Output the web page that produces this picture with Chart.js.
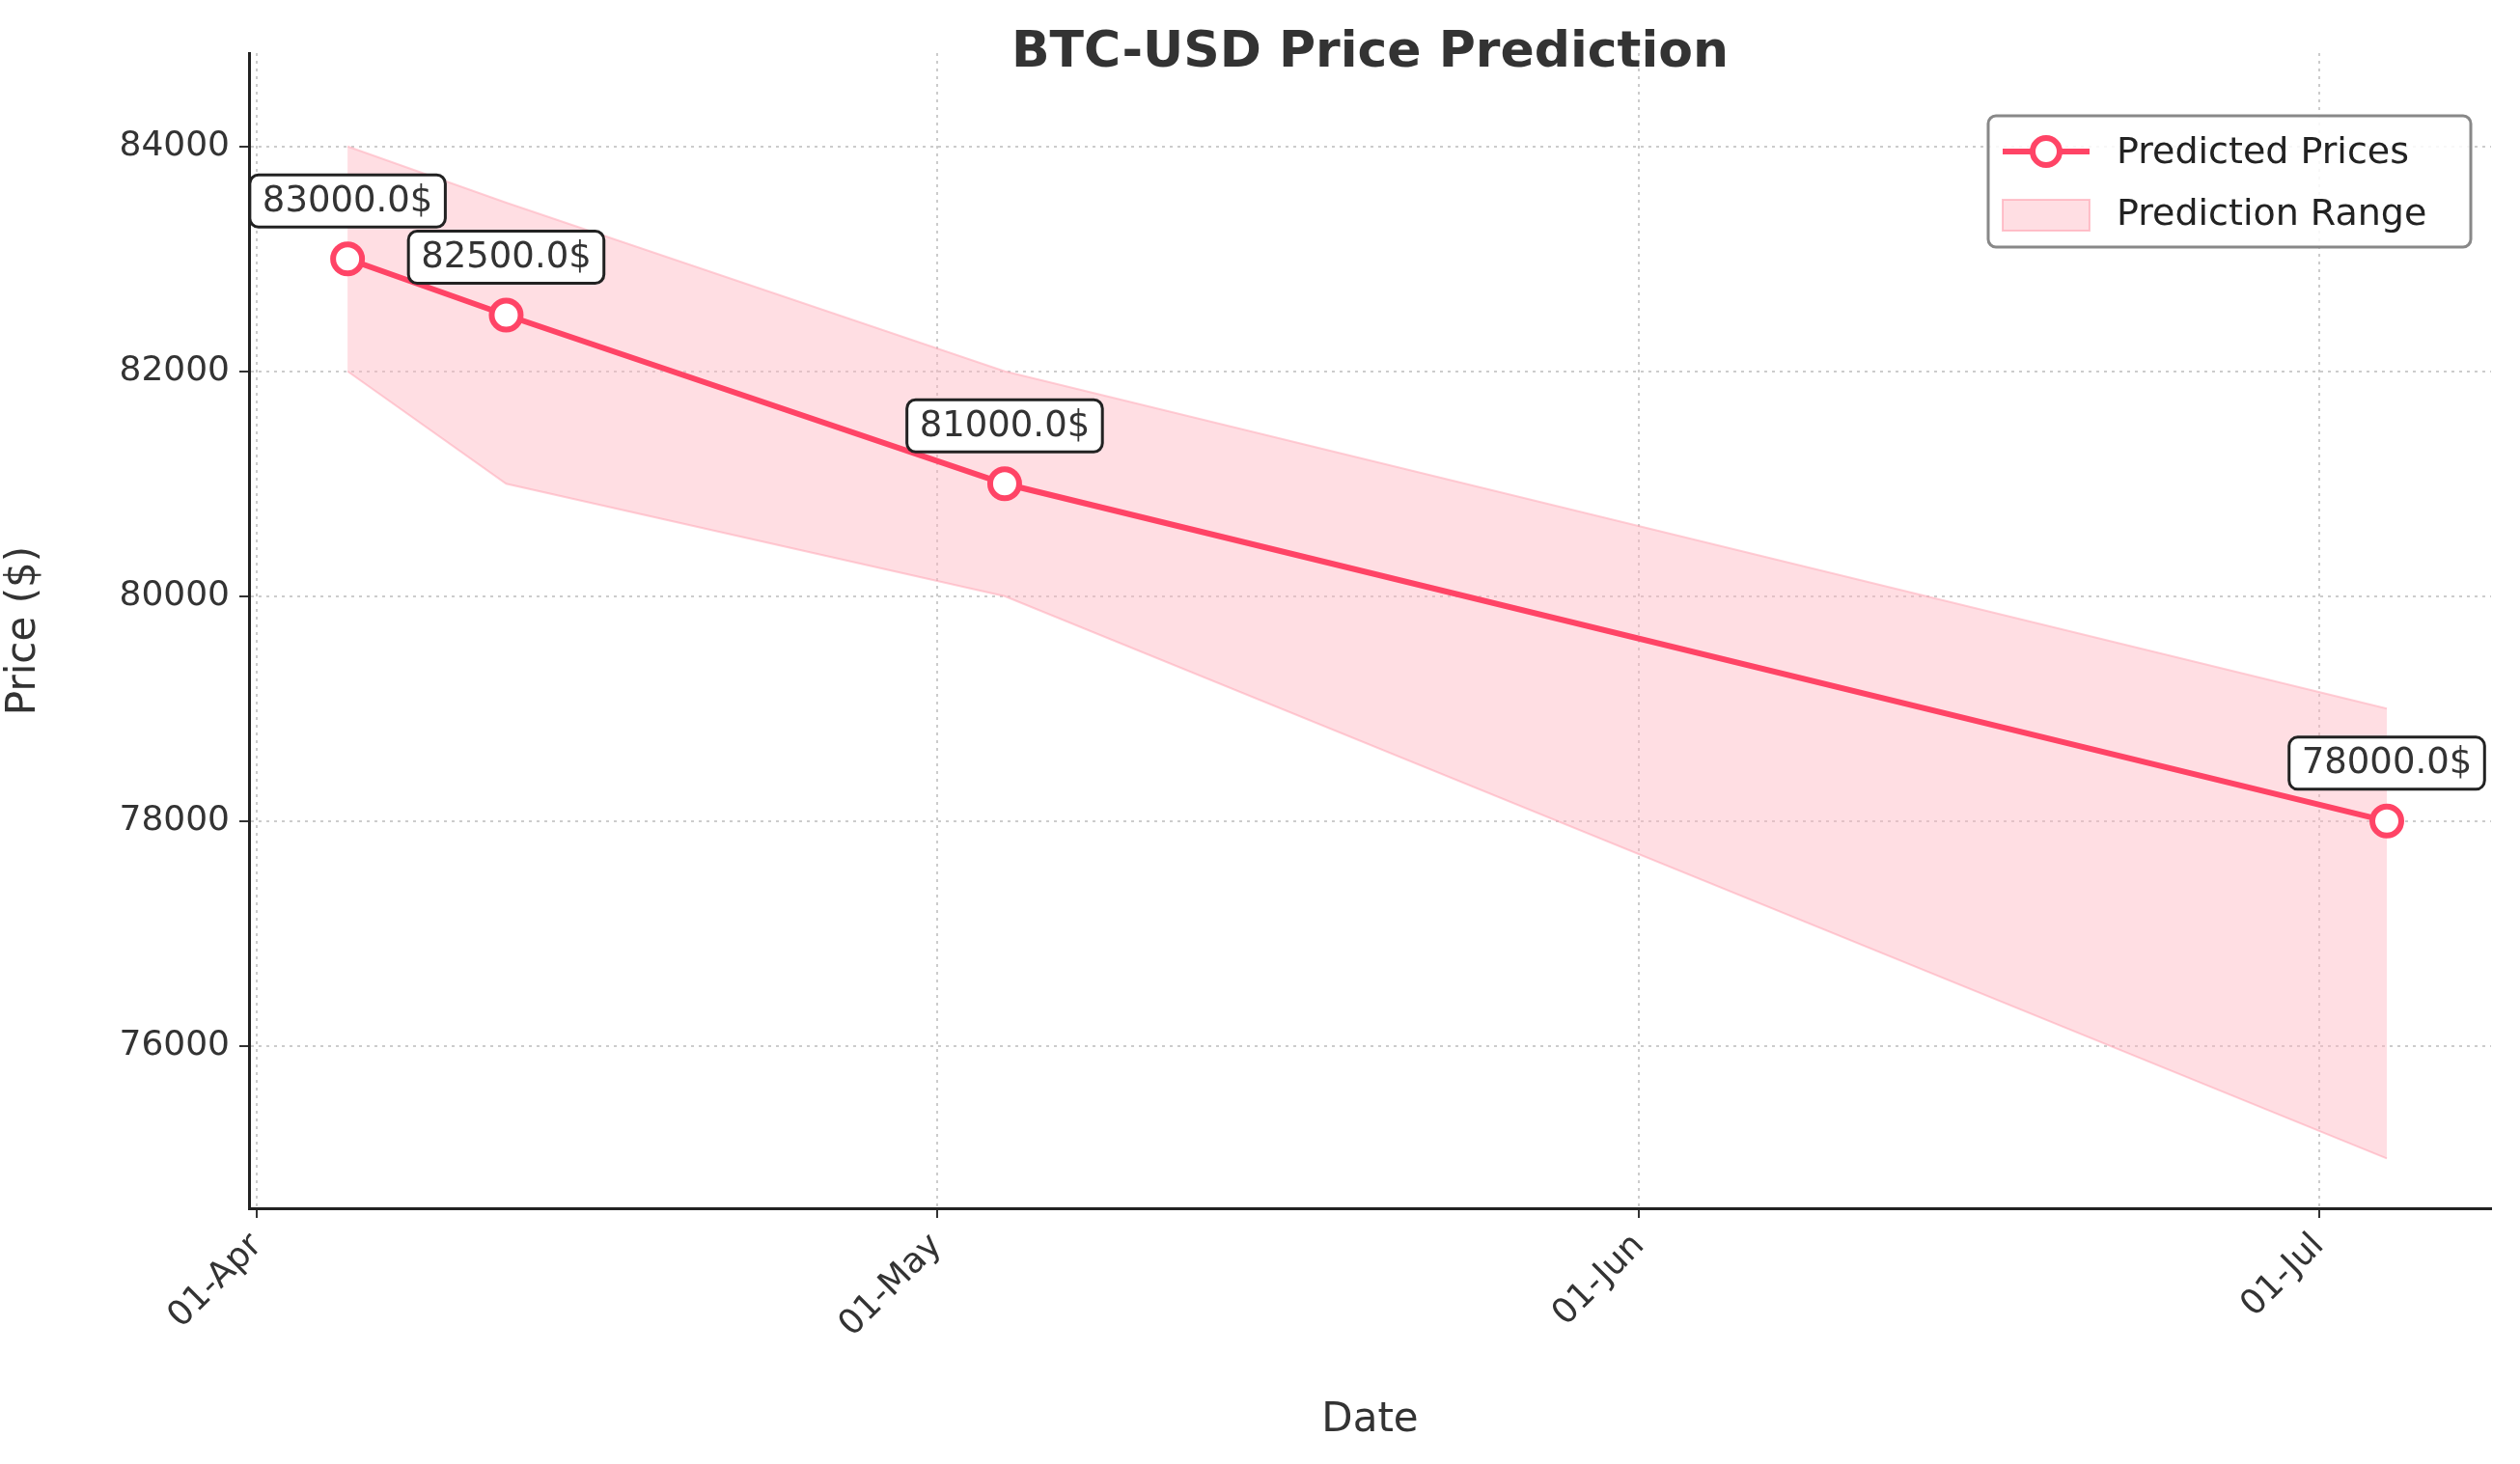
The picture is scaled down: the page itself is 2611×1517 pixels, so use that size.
<!DOCTYPE html>
<html><head><meta charset="utf-8">
<script src="https://cdn.jsdelivr.net/npm/chart.js@4"></script>
<style>html,body{margin:0;padding:0;background:#fff}#w{width:2611px;height:1517px}</style>
</head><body><div id="w"><canvas id="c"></canvas></div>
<script>
const dayIndex = [4, 11, 33, 94]; // days since 01-Apr
const predicted = [83000, 82500, 81000, 78000];
const upper = [84000, 83500, 82000, 79000];
const lower = [82000, 81000, 80000, 75000];
const tickDays = [0, 30, 61, 91];
const tickLabels = ['01-Apr', '01-May', '01-Jun', '01-Jul'];
const yTicks = [76000, 78000, 80000, 82000, 84000];
const RED = '#ff4466', FILL = 'rgba(255,182,193,0.45)';
const F = 'DejaVu Sans';
const pts = a => a.map((v, i) => ({x: dayIndex[i], y: v}));

const extras = {
  id: 'extras',
  afterDatasetsDraw(ch) {
    const c = ch.ctx, xs = ch.scales.x, ys = ch.scales.y;
    c.save();
    c.font = `bold 52px ${F}`; c.fillStyle = '#333'; c.textAlign = 'center'; c.textBaseline = 'middle';
    c.fillText('BTC-USD Price Prediction', (ch.chartArea.left + ch.chartArea.right) / 2, 55);
    c.font = `37px ${F}`;
    predicted.forEach((v, i) => {
      const x = xs.getPixelForValue(dayIndex[i]), y = ys.getPixelForValue(v) - 60;
      const t = v.toFixed(1) + '$';
      const w = c.measureText(t).width + 26, h = 54;
      c.beginPath(); c.roundRect(x - w / 2, y - h / 2, w, h, 9);
      c.fillStyle = '#fff'; c.fill(); c.lineWidth = 3; c.strokeStyle = '#222'; c.stroke();
      c.fillStyle = '#333'; c.fillText(t, x, y + 1);
    });
    const lx = 2060, ly = 120, lw = 500, lh = 136;
    c.beginPath(); c.roundRect(lx, ly, lw, lh, 8);
    c.fillStyle = 'rgba(255,255,255,0.85)'; c.fill(); c.strokeStyle = '#888'; c.lineWidth = 3; c.stroke();
    c.textAlign = 'left';
    c.font = `38px ${F}`;
    c.strokeStyle = RED; c.lineWidth = 6;
    c.beginPath(); c.moveTo(lx + 15, ly + 37); c.lineTo(lx + 105, ly + 37); c.stroke();
    c.beginPath(); c.arc(lx + 60, ly + 37, 14, 0, Math.PI * 2); c.fillStyle = '#fff'; c.fill(); c.stroke();
    c.fillStyle = '#222'; c.fillText('Predicted Prices', lx + 133, ly + 39);
    c.fillStyle = FILL; c.fillRect(lx + 15, ly + 87, 90, 32);
    c.strokeStyle = 'rgba(255,160,175,0.6)'; c.lineWidth = 2; c.strokeRect(lx + 15, ly + 87, 90, 32);
    c.fillStyle = '#222'; c.fillText('Prediction Range', lx + 133, ly + 103);
    c.restore();
  }
};

new Chart(document.getElementById('c'), {
  type: 'line',
  data: { datasets: [
    { data: pts(upper), borderColor: 'rgba(255,160,175,0.5)', borderWidth: 2, pointRadius: 0, fill: false, order: 3 },
    { data: pts(lower), borderColor: 'rgba(255,160,175,0.5)', borderWidth: 2, pointRadius: 0, fill: '-1', backgroundColor: FILL, order: 2 },
    { data: pts(predicted), borderColor: RED, borderWidth: 6, pointRadius: 15, pointBorderWidth: 6, pointBackgroundColor: '#fff', pointBorderColor: RED, fill: false, order: 1 }
  ]},
  options: {
    responsive: true, maintainAspectRatio: false, animation: false,
    layout: { padding: { top: 55, right: 30, left: 0, bottom: 0 } },
    plugins: { legend: { display: false }, tooltip: { enabled: false }, title: { display: false } },
    scales: {
      x: { type: 'linear', min: -0.35, max: 98.6,
        afterBuildTicks: a => { a.ticks = tickDays.map(v => ({ value: v })); },
        afterFit: a => { a.height = 265; },
        ticks: { callback: v => tickLabels[tickDays.indexOf(v)], color: '#333', font: { family: F, size: 36 }, maxRotation: 45, minRotation: 45, padding: 8 },
        grid: { color: 'rgba(0,0,0,0.2)', lineWidth: 2, tickColor: '#333', tickLength: 10 },
        border: { color: '#222', width: 3, dash: [3, 5] },
        title: { display: true, text: 'Date', color: '#333', font: { family: F, size: 42 }, padding: { top: 0, bottom: 20 } } },
      y: { min: 74557, max: 84830,
        afterBuildTicks: a => { a.ticks = yTicks.map(v => ({ value: v })); },
        afterFit: a => { a.width = 258; },
        ticks: { callback: v => String(v), color: '#333', font: { family: F, size: 36 }, padding: 10 },
        grid: { color: 'rgba(0,0,0,0.2)', lineWidth: 2, tickColor: '#333', tickLength: 10 },
        border: { color: '#222', width: 3, dash: [3, 5] },
        title: { display: true, text: 'Price ($)', color: '#333', font: { family: F, size: 42 }, padding: { top: 0, bottom: 10 } } }
    }
  },
  plugins: [extras]
});
</script></body></html>
